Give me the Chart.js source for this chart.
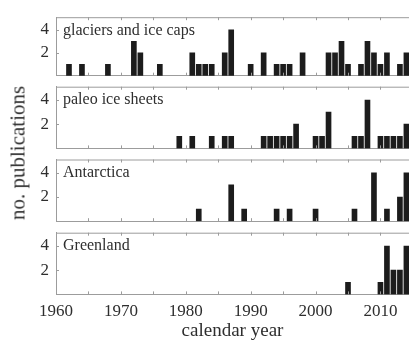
<!DOCTYPE html>
<html lang="en">
<head>
<meta charset="UTF-8">
<title>Publications per calendar year</title>
<script src="https://cdn.jsdelivr.net/npm/chart.js"></script>
<style>
  body { margin: 0; background: #fff; }
  #wrap { position: relative; width: 409px; height: 344px; overflow: hidden; }
  #wrap canvas { position: absolute; left: 0; top: 0; }
  #ytitle {
    position: absolute; left: 18px; top: 153px;
    transform: translate(-50%, -50%) rotate(-90deg);
    font: 21px "Liberation Serif", serif; color: #333; white-space: nowrap;
  }
</style>
</head>
<body>
<div id="wrap">
  <canvas id="p0" width="409" height="344"></canvas>
  <canvas id="p1" width="409" height="344"></canvas>
  <canvas id="p2" width="409" height="344"></canvas>
  <canvas id="p3" width="409" height="344"></canvas>
  <div id="ytitle">no. publications</div>
</div>
<script>
// data
const panelLabels = ['glaciers and ice caps', 'paleo ice sheets', 'Antarctica', 'Greenland'];

const glacierYears  = [1962, 1964, 1968, 1972, 1973, 1976, 1981, 1982, 1983, 1984, 1986, 1987, 1990, 1992, 1994,
                       1995, 1996, 1998, 2002, 2003, 2004, 2005, 2007, 2008, 2009, 2010, 2011, 2013, 2014];
const glacierCounts = [1, 1, 1, 3, 2, 1, 2, 1, 1, 1, 2, 4, 1, 2, 1,
                       1, 1, 2, 2, 2, 3, 1, 1, 3, 2, 1, 2, 1, 2];

const paleoYears  = [1979, 1981, 1984, 1986, 1987, 1992, 1993, 1994, 1995, 1996, 1997,
                     2000, 2001, 2002, 2006, 2007, 2008, 2010, 2011, 2012, 2013, 2014];
const paleoCounts = [1, 1, 1, 1, 1, 1, 1, 1, 1, 1, 2,
                     1, 1, 3, 1, 1, 4, 1, 1, 1, 1, 2];

const antarcticYears  = [1982, 1987, 1989, 1994, 1996, 2000, 2006, 2009, 2011, 2013, 2014];
const antarcticCounts = [1, 3, 1, 1, 1, 1, 1, 4, 1, 2, 4];

const greenlandYears  = [2005, 2010, 2011, 2012, 2013, 2014];
const greenlandCounts = [1, 1, 4, 2, 2, 4];

const yTicks = [2, 4];
const xTicks = [1960, 1965, 1970, 1975, 1980, 1985, 1990, 1995, 2000, 2005, 2010];
const xTitle = 'calendar year';

// layout / style
const W = 409, H = 344;
const panelTops = [14, 86.7, 159.5, 232.7];
const panelHeight = 61.7;
const barColor = '#1c1c1c';
const axisColor = '#9c9c9c';
const textColor = '#2e2e2e';
const serif = '"Liberation Serif", serif';

// top frame line, inward tick marks and the panel label
const framePlugin = {
  id: 'frame',
  afterDatasetsDraw(chart, args, opts) {
    const { ctx, chartArea: a, scales: { x, y } } = chart;
    ctx.save();
    ctx.strokeStyle = axisColor;
    ctx.lineWidth = 1;
    ctx.beginPath();
    ctx.moveTo(a.left, a.top + 0.5);
    ctx.lineTo(a.right, a.top + 0.5);
    x.ticks.forEach(t => {
      const px = Math.round(x.getPixelForValue(t.value)) + 0.5;
      ctx.moveTo(px, a.top);
      ctx.lineTo(px, a.top + 3);
      ctx.moveTo(px, a.bottom);
      ctx.lineTo(px, a.bottom - 3);
    });
    y.ticks.forEach(t => {
      const py = Math.round(y.getPixelForValue(t.value)) + 0.5;
      ctx.moveTo(a.left, py);
      ctx.lineTo(a.left + 3, py);
    });
    ctx.stroke();
    ctx.fillStyle = textColor;
    ctx.font = '16px ' + serif;
    ctx.textBaseline = 'middle';
    ctx.fillText(opts.label, a.left + 7, a.top + 13.5);
    ctx.restore();
  }
};

function makePanel(i, years, counts) {
  const last = i === panelLabels.length - 1;
  const top = panelTops[i];
  const bottom = top + panelHeight;

  new Chart(document.getElementById('p' + i), {
    type: 'bar',
    data: {
      datasets: [{
        data: years.map((yr, k) => ({ x: yr, y: counts[k] })),
        backgroundColor: barColor,
        barThickness: 5
      }]
    },
    options: {
      responsive: false,
      animation: false,
      layout: { padding: { top: top, bottom: last ? 0 : H - bottom, left: 0, right: 0 } },
      plugins: {
        legend: { display: false },
        tooltip: { enabled: false },
        frame: { label: panelLabels[i] }
      },
      scales: {
        x: {
          type: 'linear',
          min: 1960,
          max: 2014.4,
          offset: false,
          afterBuildTicks: s => { s.ticks = xTicks.map(v => ({ value: v })); },
          afterFit: s => { s.height = last ? H - bottom : 0; },
          grid: { display: false, drawTicks: false },
          border: { color: axisColor },
          ticks: {
            display: last,
            autoSkip: false,
            maxRotation: 0,
            padding: 7,
            color: textColor,
            font: { family: serif, size: 17 },
            callback: v => (v % 10 === 0 ? String(v) : '')
          },
          title: {
            display: last,
            text: xTitle,
            color: textColor,
            padding: { top: 0, bottom: 0 },
            font: { family: serif, size: 19, lineHeight: 1.4 }
          }
        },
        y: {
          min: 0,
          max: 5.1,
          afterFit: s => { s.width = 56; },
          afterBuildTicks: s => { s.ticks = yTicks.map(v => ({ value: v })); },
          grid: { display: false, drawTicks: false },
          border: { color: axisColor },
          ticks: {
            padding: 7,
            color: textColor,
            font: { family: serif, size: 17 }
          }
        }
      }
    },
    plugins: [framePlugin]
  });
}

makePanel(0, glacierYears, glacierCounts);
makePanel(1, paleoYears, paleoCounts);
makePanel(2, antarcticYears, antarcticCounts);
makePanel(3, greenlandYears, greenlandCounts);
</script>
</body>
</html>
